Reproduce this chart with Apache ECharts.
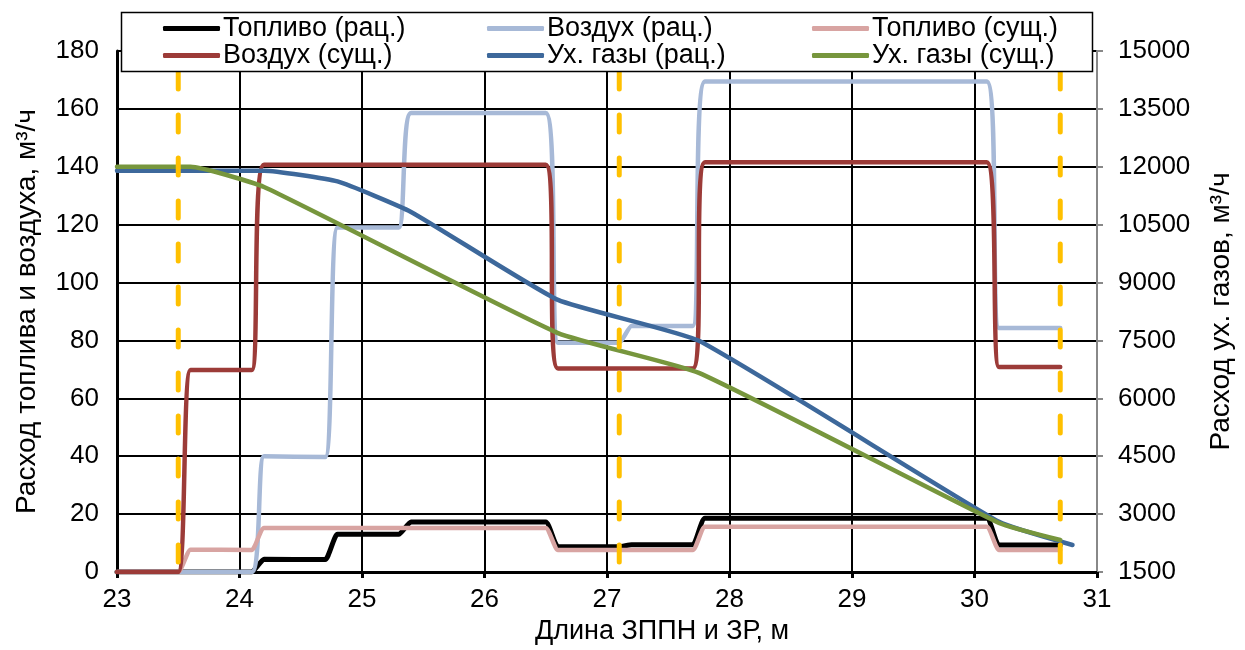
<!DOCTYPE html>
<html><head><meta charset="utf-8">
<script src="https://cdn.jsdelivr.net/npm/echarts@6/dist/echarts.min.js"></script>
<style>html,body{margin:0;padding:0;background:#fff}#c{width:1245px;height:650px}</style>
</head><body><div id="c"></div>
<script>
const seriesNames = ['Топливо (рац.)', 'Воздух (рац.)', 'Топливо (сущ.)', 'Воздух (сущ.)', 'Ух. газы (рац.)', 'Ух. газы (сущ.)'];
const seriesColors = ['#000000', '#A7B9D7', '#D8A4A2', '#9C3B38', '#3D689B', '#77963D'];

const fuelRatX = [23.0, 24.1, 24.2, 24.7, 24.8, 25.3, 25.4, 26.5, 26.6, 27.1, 27.2, 27.7, 27.8, 30.1, 30.2, 30.7];
const fuelRatY = [0, 0, 4.4, 4.3, 13.0, 13.0, 17.3, 17.3, 8.7, 8.7, 9.4, 9.4, 18.6, 18.6, 9.3, 9.3];
const airRatX  = [23.0, 24.1, 24.2, 24.7, 24.8, 25.3, 25.4, 26.5, 26.6, 27.1, 27.2, 27.7, 27.8, 30.1, 30.2, 30.7];
const airRatY  = [0, 0, 40, 39.7, 119, 119, 158.6, 158.6, 79.2, 79.2, 85, 85, 169.5, 169.5, 84.3, 84.3];
const fuelActX = [23.0, 23.5, 23.6, 24.1, 24.2, 26.5, 26.6, 27.7, 27.8, 30.1, 30.2, 30.7];
const fuelActY = [0, 0, 7.7, 7.6, 15.2, 15.2, 7.6, 7.6, 15.6, 15.6, 7.6, 7.6];
const airActX  = [23.0, 23.5, 23.6, 24.1, 24.2, 26.5, 26.6, 27.7, 27.8, 30.1, 30.2, 30.7];
const airActY  = [0, 0, 69.8, 69.8, 140.7, 140.7, 70.3, 70.3, 141.6, 141.6, 70.8, 70.8];
const gasRatX  = [23.0, 24.2, 24.8, 25.4, 26.6, 27.75, 30.2, 30.8];
const gasRatY  = [11900, 11900, 11620, 10830, 8550, 7490, 2800, 2200];
const gasActX  = [23.0, 23.6, 24.2, 26.6, 27.75, 30.2, 30.7];
const gasActY  = [12000, 12000, 11475, 7690, 6660, 2770, 2330];
const boundaryX = [23.5, 27.1, 30.7];
const boundaryY = [180, 0];

const zip = (xs, ys) => xs.map((x, i) => [x, ys[i]]);
const FONT = 'Liberation Sans, Arial, sans-serif';
const FS = 27;
const FS_YTITLE = 28;
const FS_TICK = 26;

const lineSeries = [
  [fuelRatX, fuelRatY, 0, 5],
  [airRatX, airRatY, 0, 4.5],
  [fuelActX, fuelActY, 0, 4.5],
  [airActX, airActY, 0, 4.5],
  [gasRatX, gasRatY, 1, 4.5],
  [gasActX, gasActY, 1, 4.5]
].map((s, i) => ({
  name: seriesNames[i], type: 'line', yAxisIndex: s[2], data: zip(s[0], s[1]),
  showSymbol: false, smooth: 0.14, color: seriesColors[i],
  lineStyle: { width: s[3], color: seriesColors[i], cap: 'round', join: 'round' },
  z: 2 + i * 0.01
}));

const boundarySeries = boundaryX.map(x => ({
  type: 'line', data: boundaryY.map(y => [x, y]), showSymbol: false, silent: true,
  lineStyle: { color: '#FFC000', width: 5, type: [17, 26], dashOffset: 22, cap: 'round' },
  z: 3
}));

const legendPos = [[163, 15], [487, 15], [812, 15], [163, 42], [487, 42], [812, 42]];
const legends = seriesNames.map((n, i) => ({
  data: [n], left: legendPos[i][0], top: legendPos[i][1], padding: 0,
  itemWidth: 57, itemHeight: 5, icon: 'roundRect', z: 60,
  textStyle: { fontFamily: FONT, fontSize: FS, color: '#000', padding: [0, 0, 0, -2] },
  selectedMode: false
}));

const chart = echarts.init(document.getElementById('c'), null, { renderer: 'canvas' });
chart.setOption({
  animation: false,
  backgroundColor: '#fff',
  grid: { left: 117, right: 148, top: 51, bottom: 78, containLabel: false },
  legend: legends,
  graphic: [{
    type: 'rect', z: 50, shape: { x: 121.5, y: 12.5, width: 971, height: 59 },
    style: { fill: '#fff', stroke: '#000', lineWidth: 1.5 }
  }],
  xAxis: {
    type: 'value', min: 23, max: 31, interval: 1,
    name: 'Длина ЗППН и ЗР, м', nameLocation: 'middle', nameGap: 46,
    nameTextStyle: { fontFamily: FONT, fontSize: FS, color: '#000', padding: [0, 0, 0, 110] },
    axisLine: { show: true, onZero: false, lineStyle: { color: '#000', width: 3 } },
    axisTick: { show: true, length: 6, lineStyle: { color: '#000', width: 3 } },
    axisLabel: { fontFamily: FONT, fontSize: FS_TICK, color: '#000', margin: 15 },
    splitLine: { show: true, lineStyle: { color: '#000', width: 2 } }
  },
  yAxis: [{
    type: 'value', min: 0, max: 180, interval: 20, position: 'left',
    name: 'Расход топлива и воздуха, м³/ч', nameLocation: 'middle', nameGap: 76,
    nameTextStyle: { fontFamily: FONT, fontSize: FS_YTITLE, color: '#000' },
    axisLine: { show: true, onZero: false, lineStyle: { color: '#000', width: 3 } },
    axisTick: { show: false },
    axisLabel: { fontFamily: FONT, fontSize: FS_TICK, color: '#000', margin: 18 },
    splitLine: { show: true, lineStyle: { color: '#000', width: 2 } }
  }, {
    type: 'value', min: 1500, max: 15000, interval: 1500, position: 'right',
    name: 'Расход ух. газов, м³/ч', nameLocation: 'middle', nameGap: 110,
    nameTextStyle: { fontFamily: FONT, fontSize: FS_YTITLE, color: '#000' },
    axisLine: { show: true, lineStyle: { color: '#888', width: 2 } },
    axisTick: { show: true, length: 6, lineStyle: { color: '#888', width: 2 } },
    axisLabel: { fontFamily: FONT, fontSize: FS_TICK, color: '#000', margin: 21, formatter: v => String(v) },
    splitLine: { show: false }
  }],
  series: lineSeries.concat(boundarySeries)
});
</script></body></html>
